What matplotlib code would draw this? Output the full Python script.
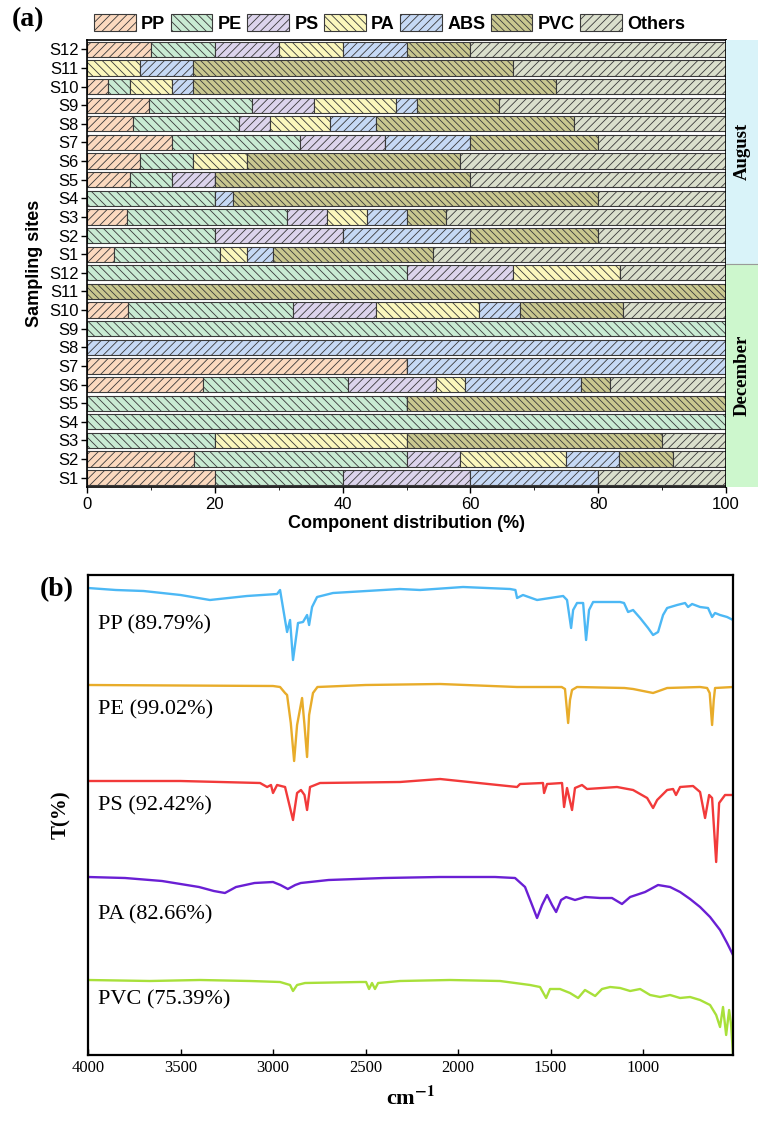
import matplotlib
matplotlib.use("Agg")
from matplotlib import pyplot as plt
import numpy as np

plt.rcParams['font.family'] = ['Liberation Sans', 'DejaVu Sans']
plt.rcParams['font.serif'] = ['Liberation Serif', 'DejaVu Serif']
plt.rcParams['mathtext.fontset'] = 'stix'
plt.rcParams['hatch.linewidth'] = 0.6
plt.rcParams['hatch.color'] = '#3a3a3a'

# (a) component distribution (%) per site, S1..S12
sites = ["S%d" % i for i in range(1, 13)]
types = ["PP", "PE", "PS", "PA", "ABS", "PVC", "Others"]

aug_pp = [4.17, 0, 6.25, 0, 6.67, 8.33, 13.33, 7.14, 9.68, 3.33, 0, 10]
aug_pe = [16.67, 20, 25, 20, 6.67, 8.33, 20, 16.67, 16.13, 3.33, 0, 10]
aug_ps = [0, 20, 6.25, 0, 6.67, 0, 13.33, 4.76, 9.68, 0, 0, 10]
aug_pa = [4.17, 0, 6.25, 0, 0, 8.33, 0, 9.52, 12.9, 6.67, 8.33, 10]
aug_abs = [4.17, 20, 6.25, 2.86, 0, 0, 13.33, 7.14, 3.23, 3.33, 8.33, 10]
aug_pvc = [25, 20, 6.25, 57.14, 40, 33.33, 20, 30.95, 12.9, 56.67, 50, 10]
aug_oth = [45.83, 20, 43.75, 20, 40, 41.67, 20, 23.81, 35.48, 26.67, 33.33, 40]

dec_pp = [20, 16.67, 0, 0, 0, 18.18, 50, 0, 0, 6.45, 0, 0]
dec_pe = [20, 33.33, 20, 100, 50, 22.73, 0, 0, 100, 25.81, 0, 50]
dec_ps = [20, 8.33, 0, 0, 0, 13.64, 0, 0, 0, 12.9, 0, 16.67]
dec_pa = [0, 16.67, 30, 0, 0, 4.55, 0, 0, 0, 16.13, 0, 16.67]
dec_abs = [20, 8.33, 0, 0, 0, 18.18, 50, 100, 0, 6.45, 0, 0]
dec_pvc = [0, 8.33, 40, 0, 50, 4.55, 0, 0, 0, 16.13, 100, 0]
dec_oth = [20, 8.33, 10, 0, 0, 18.18, 0, 0, 0, 16.13, 0, 16.67]

aug = [aug_pp, aug_pe, aug_ps, aug_pa, aug_abs, aug_pvc, aug_oth]
dec = [dec_pp, dec_pe, dec_ps, dec_pa, dec_abs, dec_pvc, dec_oth]

colors = ['#fbd9bf', '#c9ebd3', '#dcd4ec', '#fbf7bd', '#c6d9f5', '#c9c78f', '#dadfcc']
hatches = ['////', '\\\\\\\\', '////', '\\\\\\\\', '////', '\\\\\\\\\\', '////']

# (b) FTIR spectra: wavenumber (cm-1) and transmittance (a.u., offset)
pp_wn = [4000, 3850, 3700, 3500, 3341, 3141, 2978, 2962, 2935, 2924, 2908, 2892, 2865, 2838, 2816,
         2805, 2789, 2762, 2676, 2314, 2205, 1973, 1719, 1690, 1681, 1649, 1573, 1432, 1411, 1389,
         1378, 1357, 1324, 1308, 1292, 1270, 1195, 1124, 1103, 1081, 1054, 1016, 973, 946, 919,
         892, 870, 816, 773, 757, 735, 692, 649, 627, 611, 584, 546, 514]
pp_t = [467, 465, 464, 460, 455, 459, 461, 465, 435, 423, 435, 395, 432, 433, 440,
        430, 448, 458, 462, 466, 465, 468, 466, 465, 457, 460, 455, 459, 455, 427,
        445, 452, 452, 415, 445, 453, 453, 453, 452, 443, 445, 437, 427, 420, 423,
        440, 447, 450, 452, 448, 451, 448, 447, 438, 442, 440, 438, 435]

pe_wn = [4000, 3000, 2962, 2935, 2924, 2904, 2886, 2870, 2843, 2830, 2816, 2805, 2784, 2760, 2500,
         2097, 1681, 1440, 1422, 1405, 1395, 1384, 1357, 1100, 1054, 1000, 946, 900, 870, 692,
         654, 640, 627, 618, 611, 514]
pe_t = [370, 369, 368, 362, 360, 332, 294, 330, 357, 330, 298, 340, 362, 368, 370,
        371, 368, 368, 366, 332, 355, 365, 368, 367, 366, 364, 362, 365, 367, 368,
        367, 362, 330, 355, 367, 368]

ps_wn = [4000, 3500, 3070, 3032, 3011, 3000, 2978, 2935, 2892, 2870, 2849, 2830, 2816, 2800, 2746,
         2314, 2097, 1681, 1665, 1541, 1535, 1519, 1438, 1427, 1411, 1384, 1368, 1330, 1303, 1141,
         1054, 978, 946, 924, 870, 838, 822, 800, 730, 692, 665, 643, 627, 605, 589, 557, 514]
ps_t = [274, 274, 272, 268, 270, 262, 270, 268, 235, 262, 265, 260, 245, 268, 272,
        273, 276, 268, 271, 272, 262, 271, 272, 248, 267, 245, 267, 270, 266, 268,
        265, 257, 247, 255, 265, 266, 260, 268, 269, 263, 237, 260, 257, 193, 252, 260, 260]

pa_wn = [4000, 3800, 3600, 3400, 3320, 3260, 3200, 3100, 3000, 2960, 2920, 2880, 2850, 2700, 2400,
         2100, 1800, 1692, 1638, 1600, 1573, 1546, 1519, 1492, 1470, 1443, 1416, 1368, 1314, 1232,
         1168, 1114, 1070, 989, 919, 854, 800, 746, 692, 638, 584, 546, 514]
pa_t = [178, 177, 174, 168, 164, 162, 168, 172, 173, 170, 166, 170, 172, 175, 177,
        178, 178, 177, 168, 150, 137, 150, 160, 150, 143, 155, 158, 155, 158, 157,
        157, 151, 158, 163, 170, 168, 163, 156, 148, 138, 125, 112, 100]

pvc_wn = [4000, 3665, 3395, 3124, 2962, 2908, 2892, 2870, 2827, 2530, 2497, 2481, 2465, 2449, 2432,
          2314, 2043, 1773, 1692, 1611, 1557, 1524, 1503, 1449, 1395, 1351, 1314, 1259, 1222, 1178,
          1124, 1070, 1016, 962, 908, 854, 800, 746, 692, 638, 605, 584, 568, 551, 535, 524, 514]
pvc_t = [75, 74, 75, 74, 73, 70, 64, 70, 72, 73, 73, 66, 72, 66, 72,
         74, 75, 74, 72, 70, 68, 57, 66, 66, 62, 57, 65, 59, 66, 68,
         67, 64, 66, 60, 58, 60, 57, 58, 55, 50, 40, 28, 48, 20, 45, 30, 0]

spectra = [("PP (89.79%)", pp_wn, pp_t, '#4cb8f5', 430),
           ("PE (99.02%)", pe_wn, pe_t, '#e8ac2a', 345),
           ("PS (92.42%)", ps_wn, ps_t, '#f23a3a', 249),
           ("PA (82.66%)", pa_wn, pa_t, '#6a1fd4', 140),
           ("PVC (75.39%)", pvc_wn, pvc_t, '#a8e03a', 55)]

W, H = 759, 1133
fig = plt.figure(figsize=(W / 100, H / 100), dpi=100)

# ---------- panel (a)
ax = fig.add_axes([87 / W, 1 - 487 / H, (726 - 87) / W, (487 - 40) / H])
ypos = np.arange(24)
left = np.zeros(24)
for i, name in enumerate(types):
    vals = np.array(dec[i] + aug[i], dtype=float)
    ax.barh(ypos, vals, left=left, height=0.82, color=colors[i], hatch=hatches[i],
            edgecolor='#3a3a3a', linewidth=0.8, label=name)
    left += vals
ax.set_xlim(0, 100)
ax.set_ylim(-0.5, 23.5)
ax.set_yticks(ypos)
ax.set_yticklabels(sites + sites, fontsize=12)
ax.set_xticks(range(0, 101, 20))
ax.set_xticks(range(10, 100, 20), minor=True)
ax.tick_params(axis='x', labelsize=12, length=4, width=1)
ax.tick_params(axis='x', which='minor', length=2.5)
ax.tick_params(axis='y', length=4, width=1, pad=2)
for s in ax.spines.values():
    s.set_linewidth(1.2)
ax.set_xlabel("Component distribution (%)", fontsize=13, fontweight='bold', labelpad=2)
ax.set_ylabel("Sampling sites", fontsize=13, fontweight='bold', labelpad=4)
leg = ax.legend(ncol=7, loc='lower left', bbox_to_anchor=(0, 1.0), frameon=False,
                fontsize=13, handlelength=2.3, handleheight=1.1, handletextpad=0.3,
                columnspacing=0.3, borderaxespad=0.4, borderpad=0)
for t in leg.get_texts():
    t.set_fontweight('bold')

strip = fig.add_axes([726 / W, 1 - 487 / H, (758 - 726) / W, (487 - 40) / H])
strip.set_xlim(0, 1)
strip.set_ylim(-0.5, 23.5)
strip.axhspan(11.5, 23.5, color='#d9f3f9')
strip.axhspan(-0.5, 11.5, color='#cdf7cd')
strip.axhline(11.5, color='#9a9a9a', lw=0.8)
strip.text(0.5, 17.5, "August", rotation=90, ha='center', va='center',
           family='serif', fontweight='bold', fontsize=13.5)
strip.text(0.5, 5.5, "December", rotation=90, ha='center', va='center',
           family='serif', fontweight='bold', fontsize=13.5)
strip.set_xticks([])
strip.set_yticks([])
for s in strip.spines.values():
    s.set_visible(False)

fig.text(12 / W, 1 - 20 / H, "(a)", family='serif', fontweight='bold', fontsize=20, va='center')

# ---------- panel (b)
axb = fig.add_axes([88 / W, 1 - 1055 / H, (733 - 88) / W, (1055 - 575) / H])
for label, wn, t, c, ly in spectra:
    axb.plot(wn, t, color=c, lw=1.7)
    axb.text(3945, ly, label, family='serif', fontsize=16, va='center', ha='left')
axb.set_xlim(4000, 514)
axb.set_ylim(0, 480)
axb.set_xticks(range(4000, 999, -500))
axb.set_yticks([])
axb.tick_params(axis='x', labelsize=12, direction='in', length=4, width=1)
for lab in axb.get_xticklabels():
    lab.set_family('serif')
for s in axb.spines.values():
    s.set_linewidth(1.6)
axb.set_xlabel(r"cm$^{\mathbf{-1}}$", family='serif', fontweight='bold', fontsize=16, labelpad=8)
axb.set_ylabel("T(%)", family='serif', fontweight='bold', fontsize=15, labelpad=12)

fig.text(40 / W, 1 - 590 / H, "(b)", family='serif', fontweight='bold', fontsize=20, va='center')

fig.savefig("out.png", dpi=100)
